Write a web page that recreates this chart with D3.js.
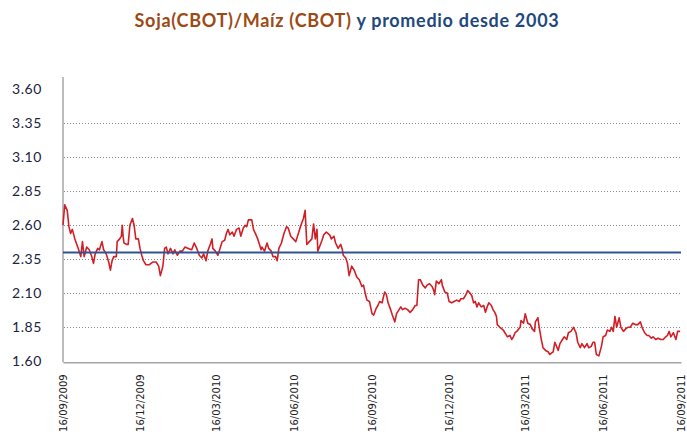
<!DOCTYPE html>
<html>
<head>
<meta charset="utf-8">
<script src="https://cdn.jsdelivr.net/npm/d3@7"></script>
<style>
  html, body { margin: 0; padding: 0; background: #fff; }
  svg { display: block; }
</style>
</head>
<body>
<svg id="chart" width="687" height="441"></svg>
<script>
// ---------- DATA ----------
const titleMain = "Soja(CBOT)/Maíz (CBOT)";
const titleRest = " y promedio desde 2003";

const yTickValues = [1.60, 1.85, 2.10, 2.35, 2.60, 2.85, 3.10, 3.35, 3.60];
const xTickLabels = ["16/09/2009","16/12/2009","16/03/2010","16/06/2010","16/09/2010",
                     "16/12/2010","16/03/2011","16/06/2011","16/09/2011"];
const averageSince2003 = 2.40;

const dates = [
"2009-09-16","2009-09-18","2009-09-21","2009-09-23","2009-09-25","2009-09-27","2009-09-30","2009-10-04","2009-10-07","2009-10-09",
"2009-10-11","2009-10-14","2009-10-17","2009-10-20","2009-10-22","2009-10-24","2009-10-27","2009-10-29","2009-11-01","2009-11-03",
"2009-11-06","2009-11-09","2009-11-11","2009-11-13","2009-11-15","2009-11-18","2009-11-19","2009-11-22","2009-11-24","2009-11-25",
"2009-11-26","2009-11-27","2009-11-30","2009-12-02","2009-12-04","2009-12-07","2009-12-09","2009-12-11","2009-12-14","2009-12-16",
"2009-12-18","2009-12-20","2009-12-23","2009-12-27","2009-12-31","2010-01-04","2010-01-07","2010-01-09","2010-01-12","2010-01-14",
"2010-01-16","2010-01-18","2010-01-21","2010-01-24","2010-01-26","2010-01-29","2010-02-01","2010-02-04","2010-02-07","2010-02-11",
"2010-02-15","2010-02-18","2010-02-21","2010-02-24","2010-02-27","2010-03-01","2010-03-04","2010-03-06","2010-03-09","2010-03-11",
"2010-03-12","2010-03-15","2010-03-18","2010-03-20","2010-03-23","2010-03-26","2010-03-28","2010-03-30","2010-04-01","2010-04-04",
"2010-04-06","2010-04-09","2010-04-12","2010-04-14","2010-04-17","2010-04-19","2010-04-21","2010-04-23","2010-04-27","2010-04-29",
"2010-05-02","2010-05-04","2010-05-06","2010-05-08","2010-05-09","2010-05-12","2010-05-15","2010-05-17","2010-05-20","2010-05-22",
"2010-05-25","2010-05-27","2010-05-29","2010-06-01","2010-06-04","2010-06-07","2010-06-09","2010-06-12","2010-06-15","2010-06-18",
"2010-06-21","2010-06-24","2010-06-27","2010-06-29","2010-07-01","2010-07-04","2010-07-07","2010-07-09","2010-07-11","2010-07-13",
"2010-07-14","2010-07-19","2010-07-21","2010-07-24","2010-07-28","2010-07-30","2010-08-02","2010-08-04","2010-08-07","2010-08-10",
"2010-08-12","2010-08-13","2010-08-16","2010-08-18","2010-08-20","2010-08-23","2010-08-26","2010-08-29","2010-09-01","2010-09-04",
"2010-09-06","2010-09-08","2010-09-10","2010-09-13","2010-09-16","2010-09-18","2010-09-21","2010-09-23","2010-09-25","2010-09-28",
"2010-09-29","2010-10-01","2010-10-03","2010-10-05","2010-10-08","2010-10-10","2010-10-13","2010-10-15","2010-10-18","2010-10-20",
"2010-10-22","2010-10-25","2010-10-28","2010-10-31","2010-11-03","2010-11-06","2010-11-08","2010-11-10","2010-11-12","2010-11-15",
"2010-11-18","2010-11-20","2010-11-23","2010-11-26","2010-11-28","2010-11-29","2010-12-01","2010-12-04","2010-12-07","2010-12-08",
"2010-12-11","2010-12-14","2010-12-16","2010-12-19","2010-12-22","2010-12-25","2010-12-28","2010-12-30","2011-01-02","2011-01-05",
"2011-01-07","2011-01-10","2011-01-12","2011-01-14","2011-01-16","2011-01-18","2011-01-20","2011-01-23","2011-01-26","2011-01-28",
"2011-01-30","2011-02-01","2011-02-04","2011-02-06","2011-02-08","2011-02-10","2011-02-11","2011-02-14","2011-02-16","2011-02-18",
"2011-02-20","2011-02-23","2011-02-26","2011-02-28","2011-03-02","2011-03-04","2011-03-06","2011-03-10","2011-03-11","2011-03-14",
"2011-03-16","2011-03-19","2011-03-22","2011-03-24","2011-03-27","2011-03-28","2011-03-31","2011-04-01","2011-04-04","2011-04-06",
"2011-04-09","2011-04-12","2011-04-14","2011-04-16","2011-04-18","2011-04-20","2011-04-24","2011-04-26","2011-04-29","2011-05-01",
"2011-05-04","2011-05-06","2011-05-09","2011-05-12","2011-05-15","2011-05-17","2011-05-20","2011-05-22","2011-05-25","2011-05-28",
"2011-05-30","2011-06-02","2011-06-04","2011-06-06","2011-06-08","2011-06-11","2011-06-14","2011-06-16","2011-06-19","2011-06-21",
"2011-06-24","2011-06-26","2011-06-28","2011-06-30","2011-07-02","2011-07-05","2011-07-07","2011-07-10","2011-07-13","2011-07-15",
"2011-07-18","2011-07-21","2011-07-24","2011-07-27","2011-07-30","2011-08-01","2011-08-04","2011-08-07","2011-08-09","2011-08-12",
"2011-08-14","2011-08-17","2011-08-20","2011-08-23","2011-08-26","2011-08-29","2011-08-31","2011-09-02","2011-09-04","2011-09-07",
"2011-09-10","2011-09-12","2011-09-15"
];

const ratio = [
2.60,2.75,2.71,2.59,2.54,2.57,2.50,2.43,2.37,2.48,
2.37,2.44,2.42,2.37,2.32,2.39,2.43,2.42,2.48,2.42,
2.39,2.33,2.27,2.34,2.37,2.37,2.48,2.50,2.52,2.60,
2.52,2.47,2.46,2.46,2.60,2.65,2.60,2.50,2.50,2.43,
2.38,2.34,2.31,2.31,2.33,2.33,2.30,2.23,2.30,2.43,
2.44,2.39,2.43,2.39,2.42,2.38,2.41,2.41,2.44,2.43,
2.42,2.47,2.43,2.38,2.36,2.39,2.34,2.41,2.46,2.50,
2.43,2.41,2.38,2.42,2.48,2.49,2.54,2.57,2.53,2.55,
2.52,2.57,2.58,2.52,2.58,2.60,2.59,2.64,2.64,2.57,
2.53,2.50,2.46,2.42,2.44,2.41,2.47,2.43,2.41,2.37,
2.37,2.34,2.43,2.47,2.54,2.59,2.58,2.52,2.50,2.48,
2.54,2.60,2.65,2.71,2.46,2.48,2.50,2.61,2.50,2.57,
2.41,2.49,2.53,2.55,2.53,2.50,2.52,2.47,2.43,2.46,
2.42,2.38,2.36,2.32,2.23,2.30,2.27,2.22,2.20,2.15,
2.16,2.10,2.05,2.04,1.95,1.94,1.99,2.01,2.04,2.03,
2.06,2.11,2.09,2.03,1.98,1.94,1.89,1.95,1.98,2.00,
1.98,1.99,1.98,1.96,1.98,2.01,2.01,2.20,2.20,2.16,
2.14,2.16,2.17,2.15,2.12,2.09,2.19,2.17,2.20,2.16,
2.11,2.10,2.04,2.03,2.04,2.05,2.04,2.06,2.06,2.09,
2.12,2.10,2.08,2.03,2.04,2.00,2.03,2.00,2.01,1.96,
2.00,2.03,2.01,1.98,1.96,1.93,1.87,1.85,1.84,1.83,
1.81,1.78,1.79,1.76,1.78,1.81,1.82,1.85,1.90,1.88,
1.95,1.88,1.87,1.84,1.82,1.89,1.92,1.87,1.76,1.70,
1.68,1.67,1.65,1.66,1.67,1.74,1.68,1.73,1.76,1.78,
1.76,1.81,1.82,1.85,1.81,1.74,1.70,1.73,1.70,1.73,
1.70,1.71,1.74,1.74,1.65,1.64,1.71,1.78,1.79,1.83,
1.82,1.85,1.82,1.93,1.85,1.92,1.85,1.82,1.84,1.85,
1.85,1.88,1.87,1.87,1.89,1.85,1.81,1.79,1.79,1.77,
1.78,1.76,1.77,1.76,1.76,1.78,1.79,1.82,1.78,1.81,
1.76,1.82,1.82
];

// ---------- CHART ----------
const svg = d3.select("#chart");
const parseISO = d3.timeParse("%Y-%m-%d");
const parseLbl = d3.timeParse("%d/%m/%Y");

const plotLeft = 63, plotRight = 681, plotTop = 89.3, plotBottom = 361.3;

const x = d3.scaleTime()
  .domain([parseLbl(xTickLabels[0]), parseLbl(xTickLabels[xTickLabels.length - 1])])
  .range([plotLeft, plotRight]);
const y = d3.scaleLinear().domain([1.60, 3.60]).range([plotBottom, plotTop]);

// Title
const title = svg.append("text")
  .attr("x", 347).attr("y", 27)
  .attr("text-anchor", "middle")
  .style("font-family", "Lato, 'Open Sans', sans-serif")
  .style("font-weight", "bold")
  .style("font-size", "18px")
  .style("letter-spacing", "0.7px");
title.append("tspan").attr("fill", "#9C4A14").text(titleMain);
title.append("tspan").attr("fill", "#1F497D").text(titleRest);

// Grid lines (dotted)
svg.append("g")
  .selectAll("line")
  .data(yTickValues.filter(v => v > 1.6 && v < 3.6))
  .join("line")
  .attr("x1", plotLeft + 1).attr("x2", plotRight)
  .attr("y1", d => Math.round(y(d)) + 0.5).attr("y2", d => Math.round(y(d)) + 0.5)
  .attr("stroke", "#8a8a8a")
  .attr("stroke-width", 1)
  .attr("stroke-dasharray", "1,2");

// Y axis labels
const yAxis = d3.axisLeft(y).tickValues(yTickValues).tickFormat(d3.format(".2f")).tickSize(0).tickPadding(0);
const gy = svg.append("g").attr("transform", `translate(${plotLeft - 21},0)`).call(yAxis);
gy.select(".domain").remove();
gy.selectAll("text")
  .attr("fill", "#1c2440")
  .style("font-family", "Lato, 'Open Sans', sans-serif")
  .style("font-size", "14px")
  .style("letter-spacing", "0.6px");

// Left axis line
svg.append("line")
  .attr("x1", plotLeft).attr("x2", plotLeft)
  .attr("y1", 77).attr("y2", plotBottom + 1)
  .attr("stroke", "#a6a6a6").attr("stroke-width", 1.5);

// X axis
const xAxis = d3.axisBottom(x)
  .tickValues(xTickLabels.map(parseLbl))
  .tickFormat(d3.timeFormat("%d/%m/%Y"))
  .tickSize(0);
const gx = svg.append("g").attr("transform", `translate(0,${plotBottom + 1})`).call(xAxis);
gx.select(".domain")
  .attr("stroke", "#a6a6a6").attr("stroke-width", 1.5);
gx.selectAll("text")
  .attr("transform", "rotate(-90)")
  .attr("text-anchor", "end")
  .attr("x", -12).attr("y", 0).attr("dy", "0.35em")
  .attr("fill", "#222")
  .style("font-family", "'DejaVu Sans', sans-serif")
  .style("font-size", "10px");

// Series line
const series = dates.map((d, i) => ({ date: parseISO(d), value: ratio[i] }));
const line = d3.line().x(d => x(d.date)).y(d => y(d.value));
svg.append("path")
  .datum(series)
  .attr("fill", "none")
  .attr("stroke", "#D21F26")
  .attr("stroke-width", 1.6)
  .attr("stroke-linejoin", "round")
  .attr("d", line);

// Average line
svg.append("line")
  .attr("x1", x(x.domain()[0])).attr("x2", x(x.domain()[1]))
  .attr("y1", y(averageSince2003)).attr("y2", y(averageSince2003))
  .attr("stroke", "#2F5496").attr("stroke-width", 2);
</script>
</body>
</html>
